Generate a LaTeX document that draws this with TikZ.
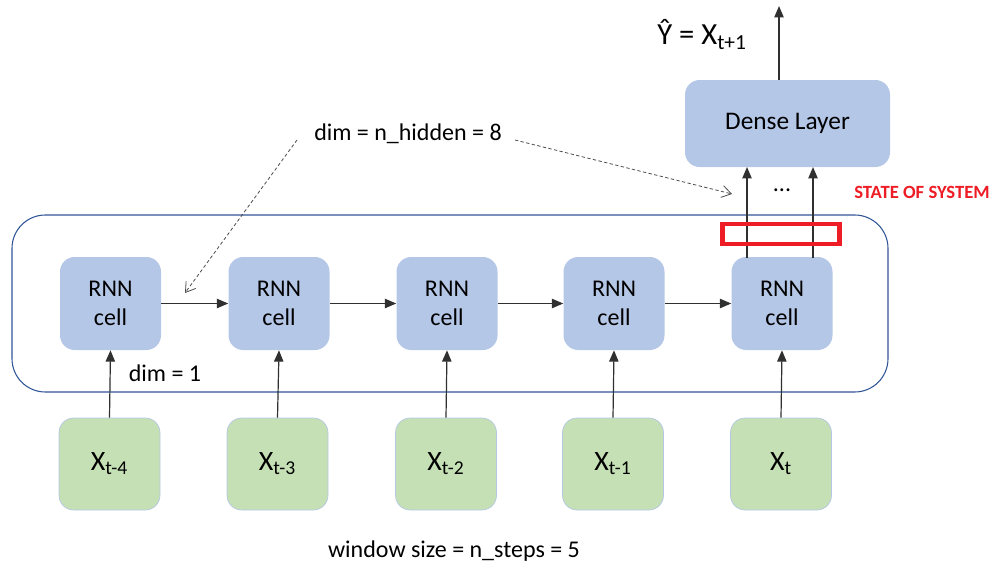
\documentclass[tikz,border=0pt]{standalone}
\usepackage{fontspec}
\setmainfont{Carlito}
\usetikzlibrary{arrows.meta}
\definecolor{cellblue}{HTML}{B4C7E7}
\definecolor{xgreen}{HTML}{C5E0B4}
\definecolor{xborder}{HTML}{B4C7E7}
\definecolor{frameblue}{HTML}{2F5597}
\definecolor{stred}{HTML}{EE1C25}
\definecolor{arrgray}{HTML}{303030}
\tikzset{
  cell/.style={fill=cellblue, draw=none, rounded corners=11pt, minimum width=75.75pt, minimum height=69.75pt, align=center, inner sep=0pt, font=\fontsize{18}{22}\selectfont},
  xbox/.style={fill=xgreen, draw=xborder, line width=0.5pt, rounded corners=11pt, minimum width=75.75pt, minimum height=69pt, inner sep=0pt, font=\fontsize{21}{24}\selectfont},
  dense/.style={fill=cellblue, draw=none, rounded corners=11pt, minimum width=153.75pt, minimum height=65.25pt, inner sep=0pt, font=\fontsize{19}{22}\selectfont},
  flow/.style={draw=arrgray, line width=0.9pt, -{Triangle[length=8.5pt,width=7pt]}},
  hint/.style={draw=black!70, line width=0.6pt, dash pattern=on 2.5pt off 1.8pt, -{Straight Barb[length=7pt,width=9pt,line width=0.6pt]}},
  lbl/.style={inner sep=0pt, font=\fontsize{18}{21}\selectfont},
}
\begin{document}
\begin{tikzpicture}[x=0.75pt,y=-0.75pt]
\useasboundingbox (0,0) rectangle (991,564);
% frame
\draw[frameblue, line width=0.8pt, rounded corners=25pt] (12,215) rectangle (888,392);
% cells
\node[cell] (c1) at (110.5,303.5) {RNN\\cell};
\node[cell] (c2) at (279,303.5) {RNN\\cell};
\node[cell] (c3) at (447,303.5) {RNN\\cell};
\node[cell] (c4) at (614,303.5) {RNN\\cell};
\node[cell] (c5) at (782,303.5) {RNN\\cell};
% inputs
\node[xbox] (x1) at (109.5,464) {X\textsubscript{t-4}};
\node[xbox] (x2) at (277.5,464) {X\textsubscript{t-3}};
\node[xbox] (x3) at (446,464) {X\textsubscript{t-2}};
\node[xbox] (x4) at (613,464) {X\textsubscript{t-1}};
\node[xbox] (x5) at (781,464) {X\textsubscript{t}};
% dense
\node[dense] (d) at (787.5,123.5) {Dense Layer};
% flows
\foreach \i in {1,...,5} {\draw[flow] (x\i.north) -- (c\i.south);}
\draw[flow] (c1.east) -- (c2.west);
\draw[flow] (c2.east) -- (c3.west);
\draw[flow] (c3.east) -- (c4.west);
\draw[flow] (c4.east) -- (c5.west);
\coordinate (s1) at (747,258);
\coordinate (s2) at (813,258);
\coordinate (e1) at (747,167);
\coordinate (e2) at (813,167);
\draw[flow] (s1) -- (e1);
\draw[flow] (s2) -- (e2);
\coordinate (out) at (779,6);
\draw[flow] (d.north -| out) -- (out);
% state rectangle
\node[draw=stred, line width=3.4pt, minimum width=88pt, minimum height=15pt, inner sep=0pt] (st) at (781,234) {};
\node[inner sep=0pt, font=\fontsize{18}{20}\selectfont] (dots) at (782,190) {...};
\node[inner sep=0pt, text=stred, font=\bfseries\fontsize{14}{16}\selectfont] (stl) at (922,192) {STATE OF SYSTEM};
% labels
\node[inner sep=0pt, font=\fontsize{23}{26}\selectfont] (yhat) at (702,35) {Ŷ = X\textsubscript{t+1}};
\node[lbl] (dim1) at (165,373) {dim = 1};
\node[lbl] (dimh) at (408,134) {dim = n\_hidden = 8};
\node[lbl] (win) at (454,551) {window size = n\_steps = 5};
\coordinate (h1s) at (297,140);
\coordinate (h1e) at (185,293);
\coordinate (h2s) at (515,140);
\coordinate (h2e) at (732,194);
\draw[hint] (h1s) -- (h1e);
\draw[hint] (h2s) -- (h2e);
\end{tikzpicture}
\end{document}
